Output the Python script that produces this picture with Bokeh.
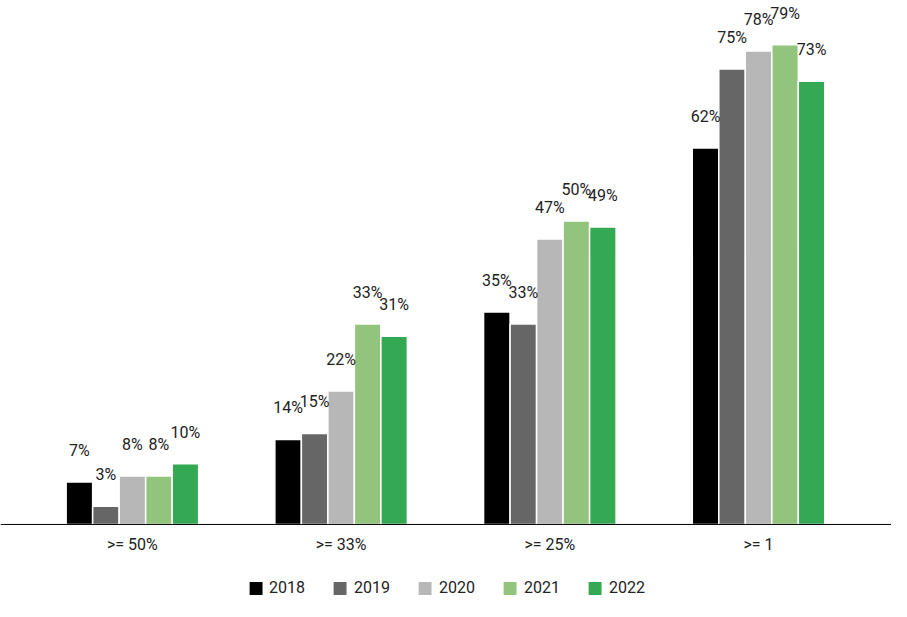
from bokeh.plotting import figure
from bokeh.models import ColumnDataSource, LabelSet, Legend, LegendItem, Span
from bokeh.core.properties import value
from bokeh.embed import file_html
from bokeh.resources import INLINE

categories = [">= 50%", ">= 33%", ">= 25%", ">= 1"]
years = ["2018", "2019", "2020", "2021", "2022"]
values = {
    "2018": [7, 14, 35, 62],
    "2019": [3, 15, 33, 75],
    "2020": [8, 22, 47, 78],
    "2021": [8, 33, 50, 79],
    "2022": [10, 31, 49, 73],
}
colors = ["#000000", "#666666", "#b7b7b7", "#93c47d", "#34a853"]

p = figure(width=891, height=601, output_backend="svg", toolbar_location=None,
           x_range=(-0.632, 3.637), y_range=(-12.69, 86.3),
           min_border=0, x_axis_type=None, y_axis_type=None)
p.outline_line_color = None
p.xgrid.visible = False
p.ygrid.visible = False

w = 0.127
items = []
for i, (yr, c) in enumerate(zip(years, colors)):
    xs = [k + (i - 2) * w for k in range(len(categories))]
    src = ColumnDataSource(dict(x=xs, top=values[yr], lab=[f"{v}%" for v in values[yr]]))
    r = p.vbar(x="x", top="top", width=w, bottom=0, source=src, fill_color=c,
               line_color="white", line_width=1.5)
    items.append(LegendItem(label=yr, renderers=[r]))
    p.add_layout(LabelSet(x="x", y="top", text="lab", source=src, text_align="center",
                          text_baseline="bottom", y_offset=22, text_font=value("Roboto"),
                          text_font_size="16px", text_color="#222222"))

p.add_layout(Span(location=0, dimension="width", line_color="#000000", line_width=1))

csrc = ColumnDataSource(dict(x=list(range(len(categories))), y=[0] * len(categories), t=categories))
p.text(x="x", y="y", text="t", source=csrc, text_align="center", text_baseline="top",
       y_offset=11, text_font=value("Roboto"), text_font_size="16px", text_color="#222222")

leg = Legend(items=items, orientation="horizontal", location="bottom_center",
             label_text_font="Roboto", label_text_font_size="16px",
             label_text_color="#222222", border_line_color=None, background_fill_alpha=0,
             glyph_width=18, glyph_height=18, spacing=26, margin=4, padding=0)
p.add_layout(leg)

open("out.html", "w").write(file_html(p, INLINE))
